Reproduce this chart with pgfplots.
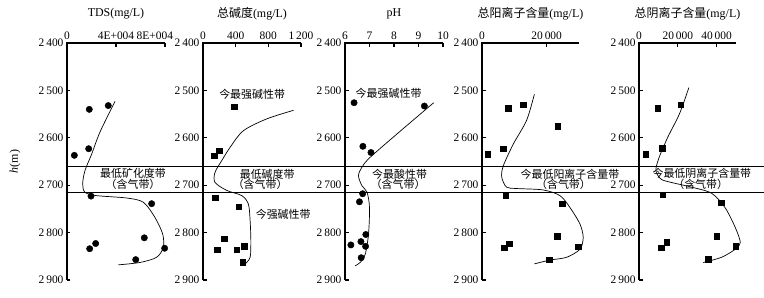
\documentclass[border=0pt]{standalone}
\usepackage{fontspec}
\setmainfont{Liberation Serif}
\newfontfamily\cjk{Noto Sans CJK SC}
\usepackage{pgfplots}
\pgfplotsset{compat=1.18}
\pgfplotsset{
  panel/.style={
    scale only axis, width=97bp, height=237bp, anchor=south west,
    y dir=reverse, ymin=2400, ymax=2900, ytick={2400,2500,2600,2700,2800,2900},
    axis x line*=top, axis y line*=left,
    axis line style={black, line width=1.2pt},
    tick align=inside, major tick length=3.5bp,
    major tick style={black, line width=1.1pt},
    clip=false, scaled ticks=false,
    ticklabel style={font=\fontsize{11.5}{12}\selectfont},
    /pgf/number format/assume math mode=true,
    /pgf/number format/1000 sep={\,},
  },
  dots/.style={only marks, mark=*, mark size=3.2bp, black},
  sq/.style={only marks, mark=square*, mark size=2.8bp, black},
  curve/.style={smooth, no markers, black, line width=0.7pt},
  frm/.style={sharp plot, no markers, black, line width=1.2pt},
}
\tikzset{
  ttl/.style={font=\fontsize{12}{14}\selectfont},
  anno/.style={font=\cjk\fontsize{11}{13}\selectfont, inner sep=0pt},
}
\begin{document}
\begin{tikzpicture}
\useasboundingbox (0,0) rectangle (764bp,298bp);

% Panel 1: TDS
\begin{axis}[panel, at={(67bp,18bp)}, width=98bp,
  xmin=0, xmax=80000, xtick={0,40000,80000},
  xticklabels={0,4E+004,\makebox[16bp][r]{8E+004}}]
\addplot[frm] coordinates {(0,2900) (0,2400) (80000,2400)};
\addplot[dots] coordinates {(33700,2532) (18200,2540) (17700,2623) (6000,2637)
  (19600,2723) (69100,2739) (63100,2811) (23400,2823) (18500,2834) (79700,2833) (56100,2857)};
\addplot[curve] coordinates {(39200,2523) (26900,2588) (20200,2634) (14700,2669)
  (12800,2697) (14700,2715) (24200,2722) (48700,2727) (62300,2736) (71800,2768)
  (78100,2803) (78600,2831) (73200,2852) (59600,2863) (41900,2868)};
\draw[line width=0.7pt] (axis cs:0,2660) -- ([xshift=697bp]axis cs:0,2660);
\draw[line width=0.7pt] (axis cs:0,2715) -- ([xshift=697bp]axis cs:0,2715);
\node[ttl] at ([yshift=29.4bp]axis description cs:0.5,1) {TDS(mg/L)};
\node[rotate=90, font=\fontsize{12}{14}\selectfont] at ([xshift=-52bp]axis description cs:0,0.5) {\textit{h}(m)};
\node[anno] at (axis cs:53900,2675) {最低矿化度带};
\node[anno] at (axis cs:53900,2698) {（含气带）};
\end{axis}

% Panel 2: total alkalinity
\begin{axis}[panel, at={(203bp,18bp)}, width=98bp,
  xmin=0, xmax=1200, xtick={0,400,800,1200}]
\addplot[frm] coordinates {(0,2900) (0,2400) (1200,2400)};
\addplot[sq] coordinates {(381,2534) (200,2627) (135,2638) (147,2726) (438,2745)
  (258,2813) (176,2836) (414,2836) (507,2829) (488,2862)};
\addplot[curve] coordinates {(1109,2542) (782,2560) (495,2585) (332,2620) (230,2648)
  (147,2673) (147,2694) (291,2711) (475,2722) (556,2740) (577,2775) (586,2817)
  (577,2852) (516,2866)};
\node[ttl] at ([yshift=29.4bp]axis description cs:0.5,1) {{\cjk 总碱度}(mg/L)};
\node[anno] at (axis cs:602,2509) {今最强碱性带};
\node[anno] at (axis cs:786,2678) {最低碱度带};
\node[anno] at (axis cs:700,2699) {（含气带）};
\node[anno] at (axis cs:982,2761) {今强碱性带};
\end{axis}

% Panel 3: pH
\begin{axis}[panel, at={(345bp,18bp)}, width=98bp,
  xmin=6, xmax=10, xtick={6,7,8,9,10}]
\addplot[frm] coordinates {(6,2900) (6,2400) (10,2400)};
\addplot[dots] coordinates {(6.37,2526) (9.24,2533) (6.73,2618) (7.06,2631) (6.72,2718)
  (6.59,2735) (6.85,2804) (6.65,2819) (6.24,2826) (6.84,2829) (6.66,2853)};
\addplot[curve] coordinates {(9.62,2526) (8.3,2584) (7.03,2641) (6.69,2662) (6.55,2680)
  (6.69,2701) (6.9,2715) (7.0,2747) (6.96,2803) (6.83,2845) (6.62,2863) (6.41,2870)};
\node[ttl] at ([yshift=29.4bp]axis description cs:0.5,1) {pH};
\node[anno] at (axis cs:7.78,2506) {今最强碱性带};
\node[anno] at (axis cs:8.23,2676) {今最酸性带};
\node[anno] at (axis cs:8.17,2699) {（含气带）};
\end{axis}

% Panel 4: total cations
\begin{axis}[panel, at={(482bp,18bp)},
  xmin=0, xmax=30000, xtick={0,20000}]
\addplot[frm] coordinates {(0,2900) (0,2400) (30000,2400)};
\addplot[sq] coordinates {(8100,2537) (12800,2530) (23400,2575) (6600,2623) (1800,2635)
  (7300,2721) (24800,2739) (23300,2808) (8400,2823) (6800,2832) (29800,2830) (20700,2857)};
\addplot[curve] coordinates {(16200,2508) (13800,2563) (9700,2613) (6600,2659) (6100,2683)
  (7600,2704) (10700,2707) (18900,2710) (24100,2722) (27200,2747) (30300,2782)
  (31300,2810) (30300,2835) (26200,2852) (21000,2858) (16200,2866)};
\node[ttl] at ([yshift=29.4bp]axis description cs:0.5,1) {{\cjk 总阳离子含量}(mg/L)};
\node[anno] at (axis cs:27200,2676) {今最低阳离子含量带};
\node[anno] at (axis cs:25200,2699) {（含气带）};
\end{axis}

% Panel 5: total anions
\begin{axis}[panel, at={(639bp,18bp)},
  xmin=0, xmax=50000, xtick={0,20000,40000}]
\addplot[frm] coordinates {(0,2900) (0,2400) (50000,2400)};
\addplot[sq] coordinates {(21400,2530) (9600,2537) (11800,2622) (3500,2634) (12200,2720)
  (42300,2737) (40000,2807) (14300,2820) (11300,2832) (49900,2829) (35600,2856)};
\addplot[curve] coordinates {(25700,2494) (20900,2549) (14800,2599) (10400,2641) (8700,2669)
  (11300,2687) (16500,2694) (27000,2704) (37400,2717) (44300,2747) (49600,2789)
  (52200,2821) (49600,2835) (42600,2852) (33100,2863)};
\node[ttl] at ([yshift=29.4bp]axis description cs:0.5,1) {{\cjk 总阴离子含量}(mg/L)};
\node[anno] at (axis cs:32400,2676) {今最低阴离子含量带};
\node[anno] at (axis cs:31800,2699) {（含气带）};
\end{axis}
\end{tikzpicture}
\end{document}
